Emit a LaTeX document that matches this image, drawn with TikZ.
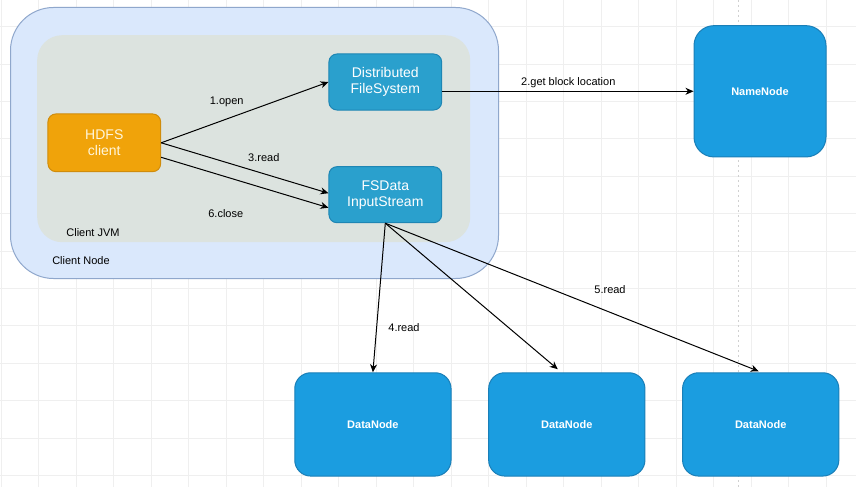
\documentclass[tikz,border=0pt]{standalone}
\usepackage{fontspec}
\setmainfont{Liberation Sans}
\usetikzlibrary{arrows.meta,calc}

\definecolor{gridc}{HTML}{EFEFEF}
\definecolor{sepc}{HTML}{D0D0D0}
\definecolor{nodefill}{HTML}{DAE8FC}
\definecolor{nodedraw}{HTML}{8FA7CC}
\definecolor{jvmfill}{HTML}{DCE3DF}
\definecolor{orangefill}{HTML}{F0A30A}
\definecolor{orangedraw}{HTML}{D08C0C}
\definecolor{orangetext}{HTML}{FFF6DC}
\definecolor{innerfill}{HTML}{2AA0CD}
\definecolor{innerdraw}{HTML}{1E86B4}
\definecolor{serverfill}{HTML}{1B9DE0}
\definecolor{serverdraw}{HTML}{1A7FB8}

\tikzset{
  gridline/.style={draw=gridc, line width=0.9pt},
  sepline/.style={draw=sepc, line width=1pt, dash pattern=on 2pt off 3pt},
  container/.style={anchor=north west, inner sep=0pt},
  procbox/.style={draw=innerdraw, fill=innerfill, line width=1pt, rounded corners=8pt,
    minimum width=112.7pt, minimum height=56pt, inner sep=0pt, align=center,
    text=white, font=\fontsize{14}{16}\selectfont},
  clientbox/.style={procbox, draw=orangedraw, fill=orangefill, text=orangetext,
    minimum height=57.7pt},
  serverbox/.style={draw=serverdraw, fill=serverfill, line width=1pt, inner sep=0pt,
    text=white, font=\fontsize{11}{13}\selectfont\bfseries},
  lbl/.style={inner sep=0pt, font=\fontsize{11}{13}\selectfont, text=black},
  flow/.style={draw=black, line width=1pt,
    -{Stealth[length=8pt, width=7pt, inset=2.5pt]}},
}

\begin{document}
\begin{tikzpicture}[x=1pt, y=-1pt]
\useasboundingbox (0,0) rectangle (856,487);
\fill[white] (0,0) rectangle (856,487);

% background grid
\foreach \i in {0,...,22}
  \draw[gridline] (1.3+37.5*\i,0) -- (1.3+37.5*\i,487);
\foreach \j in {0,...,12}
  \draw[gridline] (0,26.7+37.4*\j) -- (856,26.7+37.4*\j);

% page separator
\draw[sepline] (738,0) -- (738,487);

% client node and its JVM
\node[container, draw=nodedraw, fill=nodefill, line width=1pt, rounded corners=43pt,
  minimum width=488pt, minimum height=271pt] (cnode) at (10,7) {};
\node[container, fill=jvmfill, rounded corners=25pt,
  minimum width=433pt, minimum height=207pt] (jvm) at (37,35) {};
\node[lbl] (jvmlbl) at (93,232.7) {Client JVM};
\node[lbl] (cnodelbl) at (81,260.7) {Client Node};

% processes inside the JVM
\node[clientbox] (hdfs) at (104.3,142.8) {HDFS\\client};
\node[procbox] (dfs) at (385.3,82) {Distributed\\FileSystem};
\node[procbox] (fsd) at (385.3,194.7) {FSData\\InputStream};

% cluster servers
\node[serverbox, rounded corners=20pt, minimum width=132pt, minimum height=131.3pt]
  (nn) at (760,91.3) {NameNode};
\foreach \name/\cx in {dn1/372.9, dn2/566.8, dn3/760.7}
  \node[serverbox, rounded corners=16pt, minimum width=156.3pt, minimum height=103.3pt]
    (\name) at (\cx,424.4) {DataNode};

% read path
\draw[flow] (hdfs.east) -- (dfs.west);
\draw[flow] (dfs.east |- nn.west) -- (nn.west);
\draw[flow] (hdfs.east) -- ([yshift=1.5pt]fsd.west);
\draw[flow] ([yshift=-14.5pt]hdfs.east) -- ([yshift=-13pt]fsd.west);
\draw[flow] (fsd.south) -- (dn1.north);
\draw[flow] (fsd.south) -- ([xshift=-9pt,yshift=3pt]dn2.north);
\draw[flow] (fsd.south) -- ([xshift=-2pt,yshift=1pt]dn3.north);

% step labels
\node[lbl] (s1) at (226.7,102) {1.open};
\node[lbl] (s2) at (568.3,83) {2.get block location};
\node[lbl] (s3) at (263.8,158) {3.read};
\node[lbl] (s4) at (404,327.3) {4.read};
\node[lbl] (s5) at (610,289.3) {5.read};
\node[lbl] (s6) at (225.8,214) {6.close};
\end{tikzpicture}
\end{document}
